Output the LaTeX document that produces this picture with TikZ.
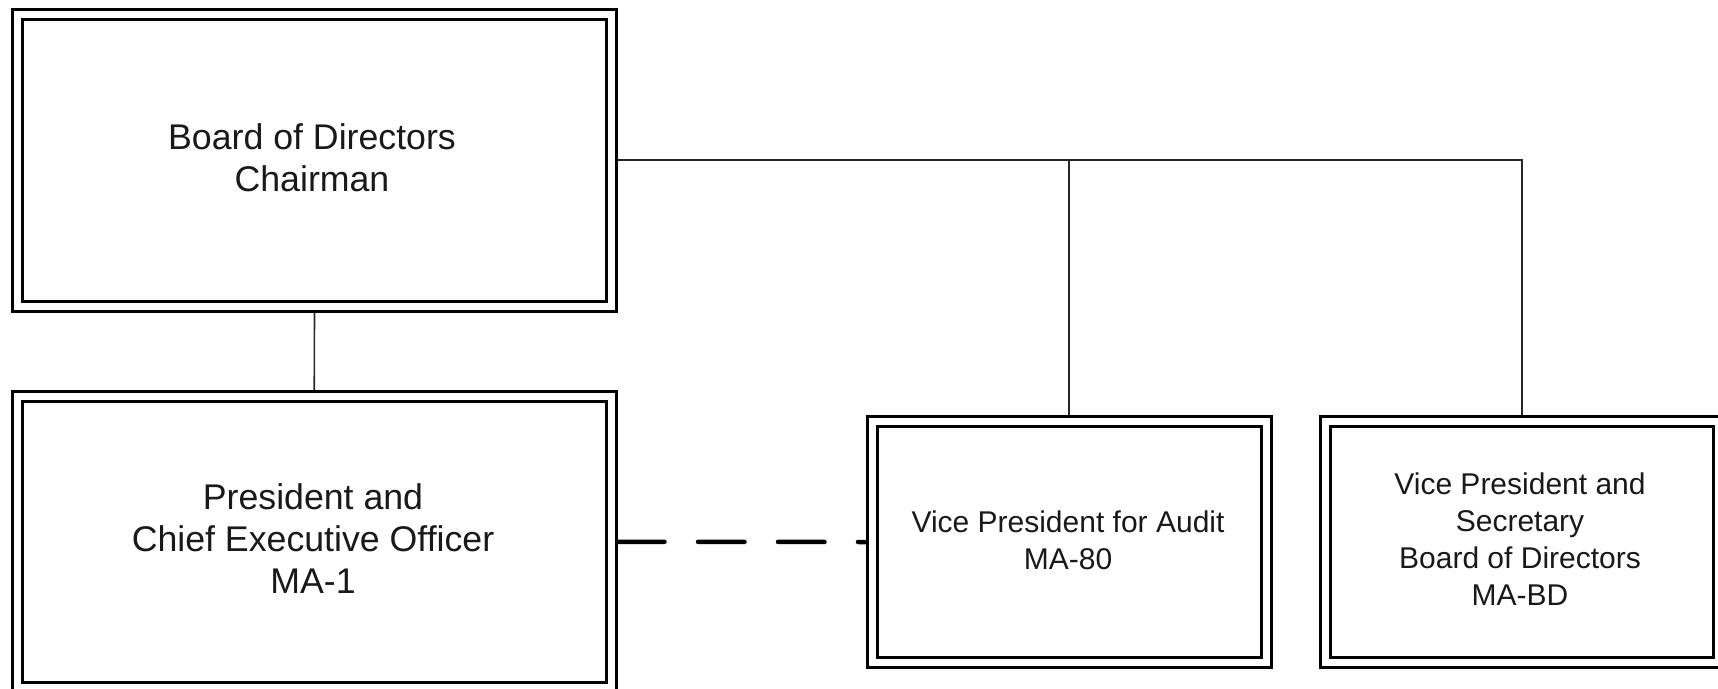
\documentclass[tikz,border=0pt]{standalone}
\usepackage{fontspec}
\setmainfont{Liberation Sans}
\begin{document}
\begin{tikzpicture}[x=1pt,y=-1pt,
  orgbox/.style={draw=black, line width=3pt, double=white, double distance=7pt, inner sep=0pt, outer sep=6.5pt},
  link/.style={line width=1.6pt, draw=black!85},
  dashlink/.style={line width=4.5pt, draw=black, line cap=round, dash pattern=on 46.5pt off 33.5pt},
  bigtext/.style={font=\fontsize{35.7}{42}\selectfont, align=center, inner sep=0pt, text=black!90},
  smalltext/.style={font=\fontsize{30}{37}\selectfont, align=center, inner sep=0pt, text=black!90}]
\useasboundingbox (0,0) rectangle (1718,688);
\clip (0,0) rectangle (1718,688);
% boxes
\node[orgbox, minimum width=594.5pt, minimum height=292pt] (board) at (314.5,160) {};
\node[orgbox, minimum width=594.5pt, minimum height=290.5pt] (pres) at (314.25,541.75) {};
\node[orgbox, minimum width=393.5pt, minimum height=241pt] (audit) at (1069.25,542) {};
\node[orgbox, minimum width=393.5pt, minimum height=241.5pt] (secr) at (1521.75,541.75) {};
% texts
\node[bigtext] (boardtxt) at (312,157.5) {Board of Directors\\Chairman};
\node[bigtext] (prestxt) at (313,538.5) {President and\\Chief Executive Officer\\MA-1};
\node[smalltext] (audittxt) at (1068,540.5) {Vice President for Audit\\MA-80};
\node[smalltext] (secrtxt) at (1520,539.5) {Vice President and\\Secretary\\Board of Directors\\MA-BD};
% connectors
\coordinate (branch) at (board.east -| audit.north);
\draw[link] (board.south) -- (pres.north);
\draw[link] (board.east) -| (secr.north);
\draw[link] (branch) -- (audit.north);
\draw[dashlink] (pres.east) -- (audit.west);
\end{tikzpicture}
\end{document}
